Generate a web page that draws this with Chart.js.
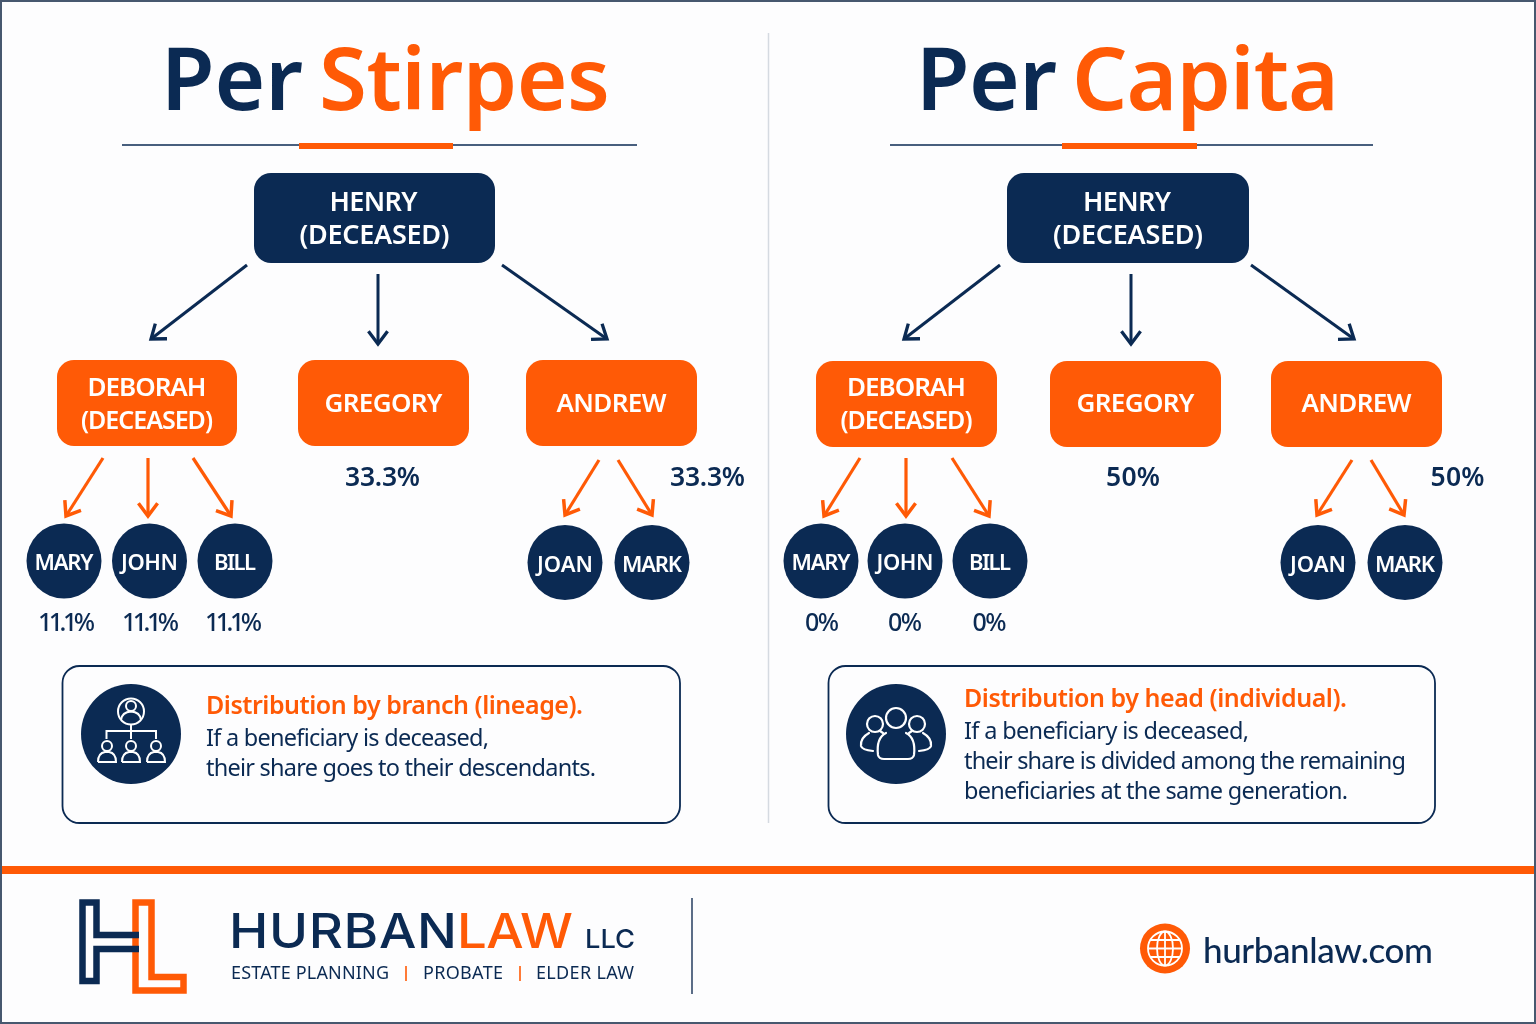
<!DOCTYPE html>
<html>
<head>
<meta charset="utf-8">
<title>Per Stirpes / Per Capita</title>
<style>
    html, body { margin: 0; padding: 0; background: #fdfdfe; }
    canvas { display: block; }
</style>
<script src="https://cdn.jsdelivr.net/npm/chart.js@4/dist/chart.umd.min.js"></script>
</head>
<body>
<canvas id="myChart" width="1536" height="1024"></canvas>
<script>
// values
const titles = [["Per", "Stirpes"], ["Per", "Capita"]];
const rootLines = ["HENRY", "(DECEASED)"];
const deceasedChild = ["DEBORAH", "(DECEASED)"];
const childNames = ["GREGORY", "ANDREW"];
const grandchildNames = ["MARY", "JOHN", "BILL", "JOAN", "MARK"];
const stirpesChildShares = [33.3, 33.3];
const stirpesGrandchildShares = [11.1, 11.1, 11.1];
const capitaChildShares = [50, 50];
const capitaGrandchildShares = [0, 0, 0];
const stirpesNote = ["Distribution by branch (lineage).", "If a beneficiary is deceased,", "their share goes to their descendants."];
const capitaNote = ["Distribution by head (individual).", "If a beneficiary is deceased,", "their share is divided among the remaining", "beneficiaries at the same generation."];
const firmName = ["HURBAN", "LAW", "LLC"];
const firmServices = ["ESTATE PLANNING", "PROBATE", "ELDER LAW"];
const firmSite = "hurbanlaw.com";

// layout of the two panels, in page units
const NAVY = "#0b2a53";
const ORANGE = "#ff5a06";
const WHITE = "#ffffff";
const FONT = "'Noto Sans'";

const panelLayout = [
    {
        title: [[161, 142], [319, 291]], rule: [122, 637], accent: [299, 453],
        root: [254, 495], deceased: [57, 237], children: [[298, 469], [526, 697]], boxTop: 360,
        arrows: [[247, 265, 151, 339], [378, 274, 378, 344], [502, 265, 607, 339]],
        childArrows: [[103, 458, 66, 516], [148, 458, 148, 516], [193, 458, 231, 516], [599, 460, 565, 515], [618, 460, 652, 515]],
        circles: [[64, 561], [149.5, 561], [235, 561], [565, 562.5], [652, 562.5]],
        shareX: [382.5, 707.5], shareW: 75, grandShareX: [66.5, 150.5, 233.5], grandShareW: 57,
        note: [62.5, 680], icon: [131, 734], noteX: 206, noteY: [714, 746, 776], noteW: [377, 283, 390]
    },
    {
        title: [[916, 141], [1072, 267]], rule: [890, 1373], accent: [1062, 1197],
        root: [1007, 1249], deceased: [816, 997], children: [[1050, 1221], [1271, 1442]], boxTop: 361,
        arrows: [[1000, 265, 904, 339], [1131, 274, 1131, 344], [1251, 265, 1354, 339]],
        childArrows: [[860, 458, 824, 516], [906, 458, 906, 516], [952, 458, 989, 516], [1352, 460, 1317, 515], [1371, 460, 1404, 515]],
        circles: [[821, 561], [905, 561], [990, 561], [1318, 562.5], [1405, 562.5]],
        shareX: [1133, 1457.5], shareW: 54, grandShareX: [822, 905, 989.5], grandShareW: 34,
        note: [828.5, 1435], icon: [896, 734], noteX: 964, noteY: [707, 739, 769, 799], noteW: [383, 285, 442, 384]
    }
];
const labelWidths = { HENRY: 88, "(DECEASED)": 150, DEBORAH: 119, GREGORY: 118, ANDREW: 110, MARY: 59, JOHN: 57, BILL: 42, JOAN: 56, MARK: 60 };

function arrowPoints(list) {
    return list.map((a) => [{ x: a[0], y: a[1] }, { x: a[2], y: a[3] }]);
}

let datasets = [];
panelLayout.forEach((panel) => {
    arrowPoints(panel.arrows).forEach((pts) => {
        datasets.push({ type: "line", data: pts, borderColor: NAVY, borderWidth: 3, pointRadius: 0, arrowHead: true });
    });
    arrowPoints(panel.childArrows).forEach((pts) => {
        datasets.push({ type: "line", data: pts, borderColor: ORANGE, borderWidth: 3.2, pointRadius: 0, arrowHead: true });
    });
    datasets.push({
        type: "scatter",
        data: panel.circles.map((c) => ({ x: c[0], y: c[1] })),
        backgroundColor: NAVY,
        borderWidth: 0,
        pointRadius: 37.5,
        pointHoverRadius: 37.5
    });
});

function roundBox(ctx, x0, y0, x1, y1, r) {
    ctx.beginPath();
    ctx.roundRect(x0, y0, x1 - x0, y1 - y0, r);
}

// left aligned text squeezed to the width it has in the picture
function fitText(ctx, str, x, y, width, font, color, stretch = 1) {
    ctx.save();
    ctx.font = font;
    ctx.fillStyle = color;
    ctx.textAlign = "left";
    ctx.textBaseline = "alphabetic";
    ctx.letterSpacing = "0px";
    let gap = (width / stretch - ctx.measureText(str).width) / (str.length - 1);
    ctx.letterSpacing = gap.toFixed(3) + "px";
    ctx.translate(x, y);
    ctx.scale(stretch, 1);
    ctx.fillText(str, 0, 0);
    ctx.restore();
}

function centerText(ctx, str, cx, y, width, font, color) {
    fitText(ctx, str, cx - width / 2, y, width, font, color);
}

function drawPersonIcon(ctx, cx, cy, headR, bodyW, bodyH) {
    ctx.beginPath();
    ctx.arc(cx, cy, headR, 0, Math.PI * 2);
    ctx.stroke();
    let top = cy + headR + 1;
    ctx.beginPath();
    ctx.moveTo(cx - bodyW / 2, top + bodyH);
    ctx.lineTo(cx + bodyW / 2, top + bodyH);
    ctx.quadraticCurveTo(cx + bodyW / 2, top + 1, cx + 2, top);
    ctx.lineTo(cx - 2, top);
    ctx.quadraticCurveTo(cx - bodyW / 2, top + 1, cx - bodyW / 2, top + bodyH);
    ctx.stroke();
}

function drawLineageIcon(ctx, cx, cy) {
    ctx.strokeStyle = WHITE;
    ctx.lineWidth = 2;
    ctx.beginPath();
    ctx.arc(cx, cy - 22.5, 13, 0, Math.PI * 2);
    ctx.stroke();
    ctx.beginPath();
    ctx.arc(cx, cy - 28, 5, 0, Math.PI * 2);
    ctx.stroke();
    ctx.beginPath();
    ctx.moveTo(cx - 10, cy - 14);
    ctx.quadraticCurveTo(cx - 9, cy - 22, cx, cy - 22.5);
    ctx.quadraticCurveTo(cx + 9, cy - 22, cx + 10, cy - 14);
    ctx.stroke();
    ctx.beginPath();
    ctx.moveTo(cx, cy - 9.5);
    ctx.lineTo(cx, cy + 5);
    ctx.moveTo(cx - 24.5, cy + 5);
    ctx.lineTo(cx - 24.5, cy - 3);
    ctx.lineTo(cx + 25, cy - 3);
    ctx.lineTo(cx + 25, cy + 5);
    ctx.stroke();
    [-24, 0, 25].forEach((dx) => {
        drawPersonIcon(ctx, cx + dx, cy + 12, 5, 18, 10);
    });
}

function drawGroupIcon(ctx, cx, cy) {
    ctx.strokeStyle = WHITE;
    ctx.lineWidth = 2.2;
    ctx.lineCap = "round";
    [[0, -16, 10], [-21, -10, 8], [21, -10, 8]].forEach((h) => {
        ctx.beginPath();
        ctx.arc(cx + h[0], cy + h[1], h[2], 0, Math.PI * 2);
        ctx.stroke();
    });
    ctx.beginPath();
    ctx.moveTo(cx - 10, cy - 1);
    ctx.quadraticCurveTo(cx - 20, cy + 4, cx - 18, cy + 21);
    ctx.quadraticCurveTo(cx - 17, cy + 25, cx - 12, cy + 25);
    ctx.lineTo(cx + 12, cy + 25);
    ctx.quadraticCurveTo(cx + 17, cy + 25, cx + 18, cy + 21);
    ctx.quadraticCurveTo(cx + 20, cy + 4, cx + 10, cy - 1);
    ctx.stroke();
    [-1, 1].forEach((s) => {
        ctx.beginPath();
        ctx.moveTo(cx + s * 27, cy - 1);
        ctx.quadraticCurveTo(cx + s * 36, cy + 4, cx + s * 35, cy + 12);
        ctx.quadraticCurveTo(cx + s * 34, cy + 16, cx + s * 23, cy + 17);
        ctx.stroke();
        ctx.beginPath();
        ctx.moveTo(cx + s * 13, cy - 1);
        ctx.lineTo(cx + s * 16, cy - 3);
        ctx.stroke();
    });
    ctx.lineCap = "butt";
}

function drawLogo(ctx) {
    ctx.lineWidth = 6.5;
    ctx.lineJoin = "miter";
    ctx.strokeStyle = ORANGE;
    ctx.beginPath();
    ctx.moveTo(135.5, 902.5);
    ctx.lineTo(151.5, 902.5);
    ctx.lineTo(151.5, 977);
    ctx.lineTo(183.5, 977);
    ctx.lineTo(183.5, 990.5);
    ctx.lineTo(135.5, 990.5);
    ctx.closePath();
    ctx.stroke();
    ctx.strokeStyle = NAVY;
    ctx.beginPath();
    ctx.moveTo(139, 935);
    ctx.lineTo(96.5, 935);
    ctx.lineTo(96.5, 902.5);
    ctx.lineTo(82.5, 902.5);
    ctx.lineTo(82.5, 981);
    ctx.lineTo(96.5, 981);
    ctx.lineTo(96.5, 949);
    ctx.lineTo(139, 949);
    ctx.stroke();
}

function drawGlobe(ctx, cx, cy) {
    ctx.fillStyle = ORANGE;
    ctx.beginPath();
    ctx.arc(cx, cy, 25, 0, Math.PI * 2);
    ctx.fill();
    ctx.strokeStyle = WHITE;
    ctx.lineWidth = 1.8;
    ctx.beginPath();
    ctx.arc(cx, cy, 17, 0, Math.PI * 2);
    ctx.stroke();
    ctx.beginPath();
    ctx.ellipse(cx, cy, 8, 17, 0, 0, Math.PI * 2);
    ctx.moveTo(cx, cy - 17);
    ctx.lineTo(cx, cy + 17);
    ctx.moveTo(cx - 17, cy);
    ctx.lineTo(cx + 17, cy);
    ctx.moveTo(cx - 14.5, cy - 8.5);
    ctx.lineTo(cx + 14.5, cy - 8.5);
    ctx.moveTo(cx - 14.5, cy + 8.5);
    ctx.lineTo(cx + 14.5, cy + 8.5);
    ctx.stroke();
}

const sheetPlugin = {
    id: "sheet",
    beforeDatasetsDraw(chart) {
        let ctx = chart.ctx;
        let x = chart.scales.x;
        let y = chart.scales.y;
        let px = (v) => x.getPixelForValue(v);
        let py = (v) => y.getPixelForValue(v);
        ctx.save();
        ctx.fillStyle = "#fdfdfe";
        ctx.fillRect(0, 0, 1536, 1024);

        ctx.strokeStyle = "#d5dae1";
        ctx.lineWidth = 1.5;
        ctx.beginPath();
        ctx.moveTo(px(768.5), py(33));
        ctx.lineTo(px(768.5), py(823));
        ctx.stroke();

        panelLayout.forEach((panel) => {
            ctx.strokeStyle = NAVY;
            ctx.lineWidth = 1.4;
            ctx.beginPath();
            ctx.moveTo(px(panel.rule[0]), py(145));
            ctx.lineTo(px(panel.rule[1]), py(145));
            ctx.stroke();
            ctx.fillStyle = ORANGE;
            ctx.fillRect(px(panel.accent[0]), py(143), panel.accent[1] - panel.accent[0], 6);

            ctx.fillStyle = NAVY;
            roundBox(ctx, px(panel.root[0]), py(173), px(panel.root[1]), py(263), 17);
            ctx.fill();
            ctx.fillStyle = ORANGE;
            [panel.deceased, ...panel.children].forEach((b) => {
                roundBox(ctx, px(b[0]), py(panel.boxTop), px(b[1]), py(panel.boxTop + 86), 17);
                ctx.fill();
            });

            ctx.strokeStyle = NAVY;
            ctx.lineWidth = 1.8;
            roundBox(ctx, px(panel.note[0]), py(666), px(panel.note[1]), py(823), 17);
            ctx.stroke();
            ctx.fillStyle = NAVY;
            ctx.beginPath();
            ctx.arc(px(panel.icon[0]), py(panel.icon[1]), 50, 0, Math.PI * 2);
            ctx.fill();
        });

        ctx.fillStyle = ORANGE;
        ctx.fillRect(0, py(866), 1536, 8);

        ctx.strokeStyle = "#47586f";
        ctx.lineWidth = 2;
        ctx.strokeRect(1, 1, 1534, 1022);

        ctx.strokeStyle = "#33496a";
        ctx.lineWidth = 1.6;
        ctx.beginPath();
        ctx.moveTo(px(692), py(898));
        ctx.lineTo(px(692), py(994));
        ctx.stroke();
        ctx.restore();
    },
    afterDatasetsDraw(chart) {
        let ctx = chart.ctx;
        ctx.save();

        // arrow heads on the line datasets
        chart.data.datasets.forEach((ds, i) => {
            if (!ds.arrowHead) {
                return;
            }
            let pts = chart.getDatasetMeta(i).data;
            let a = pts[0];
            let b = pts[1];
            let angle = Math.atan2(b.y - a.y, b.x - a.x);
            ctx.strokeStyle = ds.borderColor;
            ctx.lineWidth = ds.borderWidth + 0.3;
            ctx.beginPath();
            ctx.moveTo(b.x + 16 * Math.cos(angle + 2.5), b.y + 16 * Math.sin(angle + 2.5));
            ctx.lineTo(b.x, b.y);
            ctx.lineTo(b.x + 16 * Math.cos(angle - 2.5), b.y + 16 * Math.sin(angle - 2.5));
            ctx.stroke();
        });

        let boxFont = "600 26px " + FONT;
        let circleFont = "600 22px " + FONT;
        let shareFont = "600 26.5px " + FONT;

        titles.forEach((parts, p) => {
            let panel = panelLayout[p];
            let titleFont = "600 87px " + FONT;
            fitText(ctx, parts[0], panel.title[0][0], 110, panel.title[0][1], titleFont, NAVY);
            fitText(ctx, parts[1], panel.title[1][0], 110, panel.title[1][1], titleFont, ORANGE);

            let rootCx = (panel.root[0] + panel.root[1]) / 2;
            centerText(ctx, rootLines[0], rootCx - 1, 211, labelWidths[rootLines[0]], "600 27px " + FONT, WHITE);
            centerText(ctx, rootLines[1], rootCx, 244, labelWidths[rootLines[1]], "600 27px " + FONT, WHITE);

            let deadCx = (panel.deceased[0] + panel.deceased[1]) / 2;
            centerText(ctx, deceasedChild[0], deadCx, 396, labelWidths[deceasedChild[0]], boxFont, WHITE);
            centerText(ctx, deceasedChild[1], deadCx, 429, 132, "600 25px " + FONT, WHITE);
            childNames.forEach((name, i) => {
                let b = panel.children[i];
                centerText(ctx, name, (b[0] + b[1]) / 2, 412, labelWidths[name], boxFont, WHITE);
            });

            grandchildNames.forEach((name, i) => {
                let c = panel.circles[i];
                centerText(ctx, name, c[0], c[1] + 9, labelWidths[name], circleFont, WHITE);
            });

            let childShares = p == 0 ? stirpesChildShares : capitaChildShares;
            let grandShares = p == 0 ? stirpesGrandchildShares : capitaGrandchildShares;
            childShares.forEach((v, i) => {
                centerText(ctx, v + "%", panel.shareX[i], 486, panel.shareW, shareFont, NAVY);
            });
            grandShares.forEach((v, i) => {
                centerText(ctx, v + "%", panel.grandShareX[i], 631, panel.grandShareW, "500 25px " + FONT, NAVY);
            });

            let note = p == 0 ? stirpesNote : capitaNote;
            note.forEach((line, i) => {
                let font = i == 0 ? "600 25px " + FONT : "400 23.5px " + FONT;
                fitText(ctx, line, panel.noteX, panel.noteY[i], panel.noteW[i], font, i == 0 ? ORANGE : NAVY);
            });
        });

        drawLineageIcon(ctx, panelLayout[0].icon[0], panelLayout[0].icon[1]);
        drawGroupIcon(ctx, panelLayout[1].icon[0], panelLayout[1].icon[1]);
        drawLogo(ctx);

        fitText(ctx, firmName[0], 229, 948, 228, "500 48px Inter", NAVY, 1.1);
        fitText(ctx, firmName[1], 457, 948, 116, "500 48px Inter", ORANGE, 1.1);
        fitText(ctx, firmName[2], 585, 948, 50, "500 26px Inter", NAVY, 1.05);
        let serviceX = [[231, 158], [423, 80], [536, 98]];
        firmServices.forEach((s, i) => {
            fitText(ctx, s, serviceX[i][0], 979, serviceX[i][1], "400 18px " + FONT, NAVY);
        });
        ctx.strokeStyle = ORANGE;
        ctx.lineWidth = 1.6;
        [406, 520].forEach((bx) => {
            ctx.beginPath();
            ctx.moveTo(bx, 966);
            ctx.lineTo(bx, 981);
            ctx.stroke();
        });

        drawGlobe(ctx, 1165, 948.5);
        fitText(ctx, firmSite, 1203, 963, 230, "500 35px Lato", NAVY);
        ctx.restore();
    }
};

new Chart(document.getElementById("myChart"), {
    type: "scatter",
    data: { datasets: datasets },
    options: {
        responsive: false,
        animation: false,
        events: [],
        layout: { padding: 0, autoPadding: false },
        plugins: { legend: { display: false }, tooltip: { enabled: false } },
        scales: {
            x: { type: "linear", min: 0, max: 1536, display: false },
            y: { type: "linear", min: 0, max: 1024, reverse: true, display: false }
        }
    },
    plugins: [sheetPlugin]
});
</script>
</body>
</html>
